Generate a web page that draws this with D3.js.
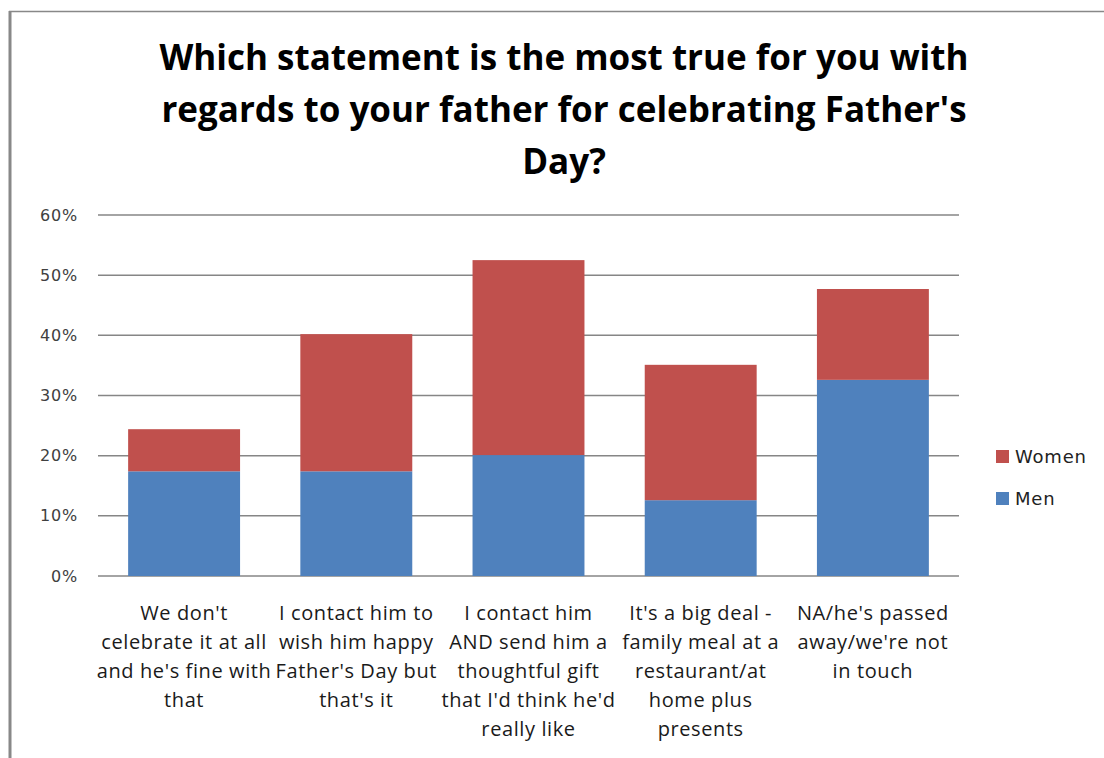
<!DOCTYPE html>
<html><head><meta charset="utf-8">
<script src="https://cdn.jsdelivr.net/npm/d3@7"></script>
<style>body{margin:0;background:#fff}svg{display:block}</style>
</head><body>
<script>
const categories = [
  ["We don't", "celebrate it at all", "and he's fine with", "that"],
  ["I contact him to", "wish him happy", "Father's Day but", "that's it"],
  ["I contact him", "AND send him a", "thoughtful gift", "that I'd think he'd", "really like"],
  ["It's a big deal -", "family meal at a", "restaurant/at", "home plus", "presents"],
  ["NA/he's passed", "away/we're not", "in touch"]
];
const men = [17.4, 17.4, 20.1, 12.6, 32.6];
const women = [7.0, 22.8, 32.4, 22.5, 15.1];
const seriesNames = ["Men", "Women"];
const colors = ["#4F81BD", "#C0504D"];
const yTicks = [0, 10, 20, 30, 40, 50, 60];
const titleLines = ["Which statement is the most true for you with", "regards to your father for celebrating Father's", "Day?"];

const W = 1104, H = 758;
const svg = d3.select("body").append("svg").attr("width", W).attr("height", H);
const narrow = "'Open Sans', sans-serif";

// frame
svg.append("line").attr("x1", 9).attr("x2", W).attr("y1", 11.5).attr("y2", 11.5).attr("stroke", "#888").attr("stroke-width", 1.5);
svg.append("line").attr("x1", 10).attr("x2", 10).attr("y1", 11).attr("y2", H).attr("stroke", "#888").attr("stroke-width", 3);

// title
svg.append("g").selectAll("text").data(titleLines).join("text")
  .attr("x", 564).attr("y", (d, i) => 70 + i * 52)
  .attr("text-anchor", "middle")
  .style("font-family", narrow).style("font-weight", "bold").style("font-size", "35px").attr("fill", "#000")
  .text(d => d);

const x = d3.scaleBand().domain(d3.range(categories.length)).range([98, 959]).paddingInner(0.35).paddingOuter(0.175);
const y = d3.scaleLinear().domain([0, 60]).range([576, 215]);

// gridlines
svg.append("g").selectAll("line").data(yTicks).join("line")
  .attr("x1", 98).attr("x2", 959).attr("y1", d => y(d)).attr("y2", d => y(d))
  .attr("stroke", "#868686").attr("stroke-width", 1.5);

// y axis labels
const yAxis = d3.axisLeft(y).tickValues(yTicks).tickFormat(d => d + "%").tickSize(0).tickPadding(0);
const ya = svg.append("g").attr("transform", "translate(78,0)").call(yAxis);
ya.select(".domain").remove();
ya.selectAll("text").style("font-family", "'DejaVu Sans', Verdana, sans-serif").style("font-size", "16px").style("letter-spacing", "0.8px").attr("fill", "#404040");

// stacked bars
const rows = men.map((m, i) => ({ i, Men: m, Women: women[i] }));
const stack = d3.stack().keys(seriesNames)(rows);
svg.append("g").selectAll("g").data(stack).join("g").attr("fill", (d, k) => colors[k])
  .selectAll("rect").data(d => d).join("rect")
  .attr("x", d => x(d.data.i)).attr("width", x.bandwidth())
  .attr("y", d => y(d[1])).attr("height", d => y(d[0]) - y(d[1]));

// category labels
const cg = svg.append("g").selectAll("text").data(categories).join("text")
  .attr("text-anchor", "middle")
  .style("font-family", narrow).style("font-size", "20px").style("letter-spacing", "0.6px").attr("fill", "#1a1a1a");
cg.each(function(lines, i) {
  d3.select(this).selectAll("tspan").data(lines).join("tspan")
    .attr("x", x(i) + x.bandwidth() / 2).attr("y", (d, j) => 620 + j * 29).text(d => d);
});

// legend
const legend = svg.append("g");
const legItems = [{ name: "Women", c: colors[1], y: 456 }, { name: "Men", c: colors[0], y: 498 }];
legend.selectAll("rect").data(legItems).join("rect")
  .attr("x", 996).attr("y", d => d.y - 6).attr("width", 13).attr("height", 13).attr("fill", d => d.c);
legend.selectAll("text").data(legItems).join("text")
  .attr("x", 1015).attr("y", d => d.y + 7)
  .style("font-family", "'DejaVu Sans', Verdana, sans-serif").style("font-size", "18px").style("letter-spacing", "0.8px").attr("fill", "#222")
  .text(d => d.name);
</script>
</body></html>
